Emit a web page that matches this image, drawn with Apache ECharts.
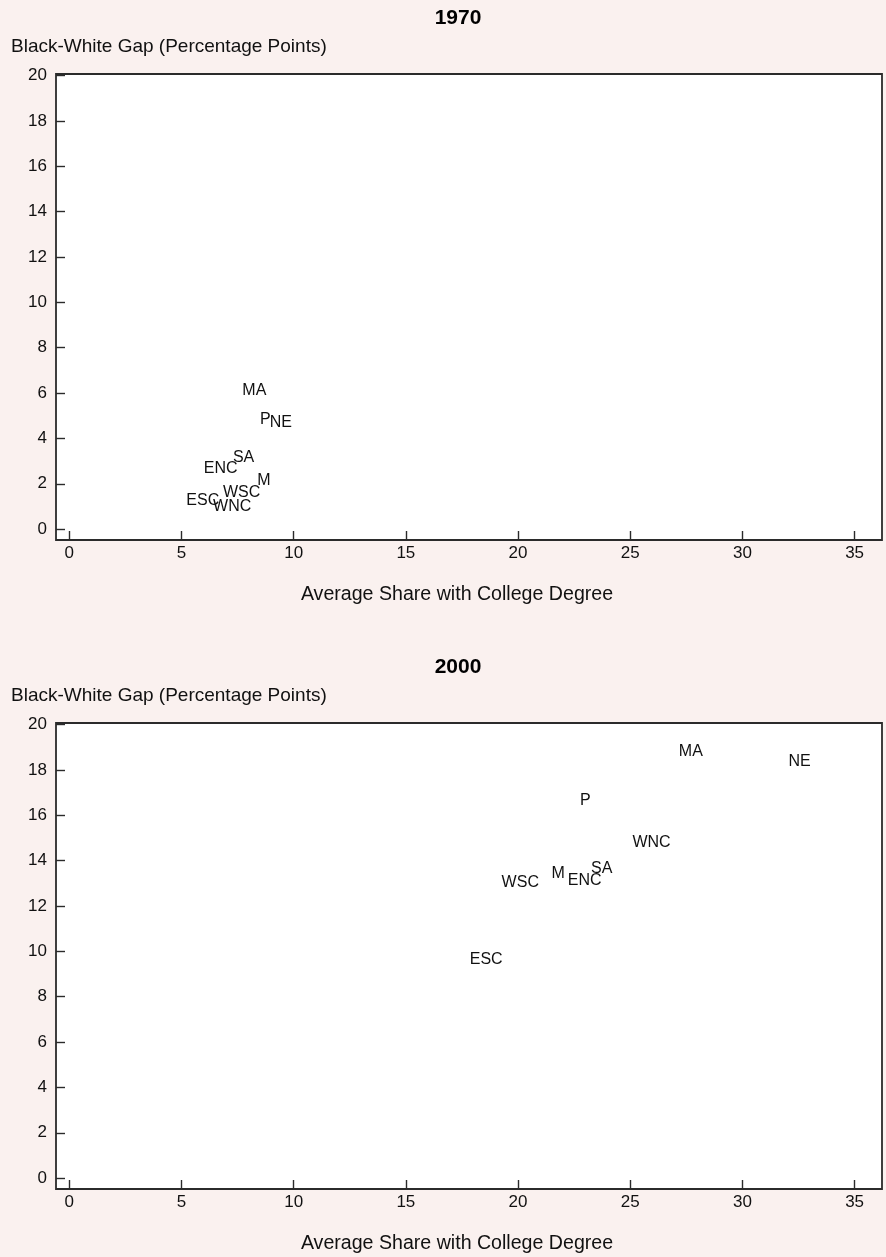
<!DOCTYPE html>
<html>
<head>
<meta charset="utf-8">
<script src="https://cdn.jsdelivr.net/npm/echarts@6/dist/echarts.min.js"></script>
<style>
  html, body { margin: 0; padding: 0; background: #faf1ef; }
  #chart { width: 886px; height: 1257px; }
</style>
</head>
<body>
<div id="chart"></div>
<script>
// Census divisions, Black-White gap in college share vs. average college share
const regions1970 = ['MA', 'P', 'NE', 'SA', 'ENC', 'M', 'WSC', 'ESC', 'WNC'];
const share1970 = [8.25, 8.74, 9.43, 7.77, 6.75, 8.68, 7.68, 5.95, 7.26];
const gap1970 = [6.09, 4.85, 4.69, 3.14, 2.67, 2.12, 1.62, 1.26, 0.98];

const regions2000 = ['MA', 'NE', 'P', 'WNC', 'SA', 'ENC', 'M', 'WSC', 'ESC'];
const share2000 = [27.70, 32.55, 23.00, 25.95, 23.73, 22.97, 21.79, 20.10, 18.58];
const gap2000 = [18.83, 18.36, 16.64, 14.79, 13.66, 13.10, 13.42, 13.02, 9.62];

const xTicks = [0, 5, 10, 15, 20, 25, 30, 35];
const yTicks = [0, 2, 4, 6, 8, 10, 12, 14, 16, 18, 20];

const panelTitles = ['1970', '2000'];
const xTitle = 'Average Share with College Degree';
const yTitle = 'Black-White Gap (Percentage Points)';

const FONT = '"Liberation Sans", Arial, Helvetica, sans-serif';
const INK = '#111';
const FRAME = '#2b2b2b';

const panelTops = [74, 723];
const plotLeft = 56, plotWidth = 826, plotHeight = 466;

function makeItems(names, xs, ys) {
  return names.map((n, i) => ({ name: n, value: [xs[i], ys[i]] }));
}

const grids = panelTops.map(t => ({
  left: plotLeft, top: t, width: plotWidth, height: plotHeight,
  show: true, backgroundColor: '#ffffff', borderColor: FRAME, borderWidth: 1.8
}));

const xAxes = panelTops.map((t, i) => ({
  type: 'value', gridIndex: i, min: -0.59, max: 36.22,
  splitLine: { show: false },
  axisLine: { show: false, onZero: false },
  axisTick: { show: true, inside: true, length: 9, customValues: xTicks,
              lineStyle: { color: FRAME, width: 1.4 } },
  axisLabel: { customValues: xTicks, color: INK, fontFamily: FONT, fontSize: 17, margin: 5 }
}));

const yAxes = panelTops.map((t, i) => ({
  type: 'value', gridIndex: i, min: -0.48, max: 20.07,
  splitLine: { show: false },
  axisLine: { show: false, onZero: false },
  axisTick: { show: true, inside: true, length: 9, customValues: yTicks,
              lineStyle: { color: FRAME, width: 1.4 } },
  axisLabel: { customValues: yTicks, color: INK, fontFamily: FONT, fontSize: 17, margin: 9 }
}));

const labelStyle = {
  show: true, position: 'inside', formatter: p => p.name,
  color: '#111', opacity: 1, fontFamily: FONT, fontSize: 16
};

const series = [
  { type: 'scatter', xAxisIndex: 0, yAxisIndex: 0, symbolSize: 0,
    itemStyle: { color: '#111' },
    data: makeItems(regions1970, share1970, gap1970), label: labelStyle, silent: true },
  { type: 'scatter', xAxisIndex: 1, yAxisIndex: 1, symbolSize: 0,
    itemStyle: { color: '#111' },
    data: makeItems(regions2000, share2000, gap2000), label: labelStyle, silent: true }
];

const texts = [];
panelTops.forEach((t, i) => {
  texts.push({ type: 'text', x: 458, y: t - 56,
    style: { text: panelTitles[i], textAlign: 'center', textVerticalAlign: 'middle',
             font: 'bold 21px ' + FONT, fill: '#000' } });
  texts.push({ type: 'text', x: 11, y: t - 27,
    style: { text: yTitle, textAlign: 'left', textVerticalAlign: 'middle',
             font: '19px ' + FONT, fill: INK } });
  texts.push({ type: 'text', x: 457, y: t + 521,
    style: { text: xTitle, textAlign: 'center', textVerticalAlign: 'middle',
             font: '19.6px ' + FONT, fill: INK } });
});

const chart = echarts.init(document.getElementById('chart'), null, { renderer: 'canvas' });
chart.setOption({
  backgroundColor: '#faf1ef',
  animation: false,
  grid: grids,
  xAxis: xAxes,
  yAxis: yAxes,
  series: series,
  graphic: texts
});
</script>
</body>
</html>
